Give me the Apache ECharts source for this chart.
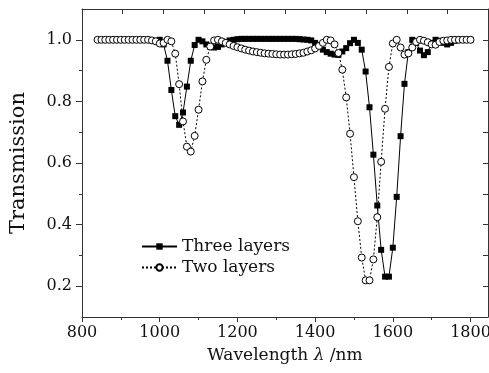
<!DOCTYPE html>
<html>
<head>
<meta charset="utf-8">
<script src="https://cdn.jsdelivr.net/npm/echarts@6/dist/echarts.min.js"></script>
<style>
  html, body { margin: 0; padding: 0; background: #fff; }
  #chart { width: 489px; height: 373px; }
</style>
</head>
<body>
<div id="chart"></div>
<script>
// two layers: open circles, dotted line
const twoWl = [840, 850, 860, 870, 880, 890, 900, 910, 920, 930, 940, 950, 960, 970, 980, 990,
  1000, 1010, 1020, 1030, 1040, 1050, 1060, 1070, 1080, 1090, 1100, 1110, 1120, 1130, 1140, 1150,
  1160, 1170, 1180, 1190, 1200, 1210, 1220, 1230, 1240, 1250, 1260, 1270, 1280, 1290, 1300, 1310,
  1320, 1330, 1340, 1350, 1360, 1370, 1380, 1390, 1400, 1410, 1420, 1430, 1440, 1450, 1460, 1470,
  1480, 1490, 1500, 1510, 1520, 1530, 1540, 1550, 1560, 1570, 1580, 1590, 1600, 1610, 1620, 1630,
  1640, 1650, 1660, 1670, 1680, 1690, 1700, 1710, 1720, 1730, 1740, 1750, 1760, 1770, 1780, 1790, 1800];
const twoT = [1.0, 1.0, 1.0, 1.0, 1.0, 1.0, 1.0, 1.0, 1.0, 1.0, 1.0, 1.0, 1.0, 1.0, 0.998, 0.995,
  0.988, 0.99, 1.0, 0.995, 0.955, 0.856, 0.735, 0.653, 0.637, 0.688, 0.773, 0.865, 0.935, 0.978, 0.998, 1.0,
  0.995, 0.99, 0.985, 0.98, 0.976, 0.972, 0.968, 0.965, 0.962, 0.96, 0.958, 0.956, 0.955, 0.954, 0.953, 0.952,
  0.952, 0.952, 0.953, 0.954, 0.956, 0.958, 0.962, 0.966, 0.972, 0.98, 0.99, 1.0, 0.998, 0.985, 0.957, 0.903,
  0.813, 0.695, 0.554, 0.411, 0.293, 0.219, 0.219, 0.287, 0.424, 0.604, 0.776, 0.912, 0.988, 1.0, 0.975, 0.952,
  0.956, 0.975, 0.993, 1.0, 0.997, 0.992, 0.985, 0.984, 0.993, 0.997, 0.998, 1.0, 1.0, 1.0, 1.0, 1.0, 1.0];

// three layers: filled squares, solid line
const threeWl = [1000, 1010, 1020, 1030, 1040, 1050, 1060, 1070, 1080, 1090, 1100, 1110, 1120, 1130, 1140, 1150,
  1160, 1170, 1180, 1190, 1200, 1210, 1220, 1230, 1240, 1250, 1260, 1270, 1280, 1290, 1300, 1310,
  1320, 1330, 1340, 1350, 1360, 1370, 1380, 1390, 1400, 1410, 1420, 1430, 1440, 1450, 1460, 1470,
  1480, 1490, 1500, 1510, 1520, 1530, 1540, 1550, 1560, 1570, 1580, 1590, 1600, 1610, 1620, 1630,
  1640, 1650, 1660, 1670, 1680, 1690, 1700, 1710, 1720, 1730, 1740, 1750, 1760, 1770, 1780, 1790, 1800];
const threeT = [1.0, 0.985, 0.932, 0.837, 0.752, 0.724, 0.764, 0.848, 0.932, 0.983, 1.0, 0.995, 0.985, 0.978, 0.975, 0.977,
  0.985, 0.993, 0.998, 1.0, 1.002, 1.003, 1.003, 1.003, 1.003, 1.003, 1.003, 1.003, 1.003, 1.003, 1.003, 1.003,
  1.003, 1.003, 1.003, 1.003, 1.002, 1.001, 1.0, 0.998, 0.99, 0.98, 0.968, 0.96, 0.955, 0.952, 0.951, 0.962,
  0.973, 0.989, 1.0, 0.99, 0.968, 0.897, 0.781, 0.627, 0.462, 0.318, 0.231, 0.231, 0.325, 0.49, 0.687, 0.857,
  0.96, 1.0, 0.99, 0.965, 0.95, 0.96, 0.99, 1.0, 0.997, 0.99, 0.985, 0.99, 0.997, 1.0, 1.0, 1.0, 1.0];

const xMajor = [800, 1000, 1200, 1400, 1600, 1800];
const xMinor = [900, 1100, 1300, 1500, 1700];
const yMajor = [0.2, 0.4, 0.6, 0.8, 1.0];
const yMinor = [0.3, 0.5, 0.7, 0.9];
const yAll = [0.2, 0.3, 0.4, 0.5, 0.6, 0.7, 0.8, 0.9, 1.0];

const font = 'DejaVu Serif';
const axisCol = '#333';

const chart = echarts.init(document.getElementById('chart'));
const lineAxis = { lineStyle: { color: axisCol, width: 1 } };

const option = {
  animation: false,
  backgroundColor: '#fff',
  grid: { left: 82, right: 1, top: 9, bottom: 56, containLabel: false, outerBoundsMode: 'none' },
  legend: {
    orient: 'vertical',
    left: 141, top: 238, padding: 0,
    itemWidth: 35, itemHeight: 8, itemGap: 4,
    textStyle: { fontFamily: font, fontSize: 17, color: '#111' },
    data: ['Three layers', 'Two layers']
  },
  xAxis: [
    {
      type: 'value', position: 'bottom', min: 800, max: 1845,
      axisLine: lineAxis, splitLine: { show: false },
      axisTick: { customValues: xMajor, length: 5, lineStyle: { color: axisCol } },
      axisLabel: { customValues: xMajor, margin: 8, fontFamily: font, fontSize: 16, color: '#111',
        formatter: v => String(v) },
      name: 'Wavelength {i|λ} /nm', nameLocation: 'middle', nameGap: 30,
      nameTextStyle: { fontFamily: font, fontSize: 17, color: '#111',
        rich: { i: { fontFamily: font, fontSize: 17, fontStyle: 'italic', color: '#111' } } }
    },
    {
      type: 'value', position: 'bottom', min: 800, max: 1845,
      axisLine: { show: false }, splitLine: { show: false }, axisLabel: { show: false },
      axisTick: { customValues: xMinor, length: 3, lineStyle: { color: axisCol } }
    },
    {
      type: 'value', position: 'top', min: 0, max: 10, interval: 1,
      axisLine: lineAxis, splitLine: { show: false }, axisLabel: { show: false },
      axisTick: { inside: true, length: 5, lineStyle: { color: axisCol } }
    }
  ],
  yAxis: [
    {
      type: 'value', position: 'left', min: 0.1, max: 1.1,
      axisLine: { show: true, lineStyle: { color: axisCol, width: 1 } }, splitLine: { show: false },
      axisTick: { customValues: yMajor, length: 6, lineStyle: { color: axisCol } },
      axisLabel: { customValues: yMajor, margin: 10, fontFamily: font, fontSize: 16, color: '#111',
        formatter: v => v.toFixed(1) },
      name: 'Transmission', nameLocation: 'middle', nameGap: 53, nameRotate: 90,
      nameTextStyle: { fontFamily: font, fontSize: 21, color: '#111' }
    },
    {
      type: 'value', position: 'left', min: 0.1, max: 1.1,
      axisLine: { show: false }, splitLine: { show: false }, axisLabel: { show: false },
      axisTick: { show: true, customValues: yMinor, length: 3, lineStyle: { color: axisCol } }
    },
    {
      type: 'value', position: 'right', min: 0.1, max: 1.1,
      axisLine: { show: true, lineStyle: { color: axisCol, width: 1 } }, splitLine: { show: false },
      axisLabel: { show: false },
      axisTick: { show: true, inside: true, customValues: yAll, length: 5, lineStyle: { color: axisCol } }
    }
  ],
  series: [
    {
      name: 'Three layers', type: 'line', xAxisIndex: 0, yAxisIndex: 0,
      data: threeWl.map((w, i) => [w, threeT[i]]),
      symbol: 'rect', symbolSize: 6,
      lineStyle: { color: '#000', width: 1 },
      itemStyle: { color: '#000' }
    },
    {
      name: 'Two layers', type: 'line', xAxisIndex: 0, yAxisIndex: 0,
      data: twoWl.map((w, i) => [w, twoT[i]]),
      symbol: 'circle', symbolSize: 7,
      lineStyle: { color: '#000', width: 1, type: [2, 2] },
      itemStyle: { color: '#fff', borderColor: '#000', borderWidth: 1 }
    }
  ]
};
option && chart.setOption(option);
</script>
</body>
</html>
